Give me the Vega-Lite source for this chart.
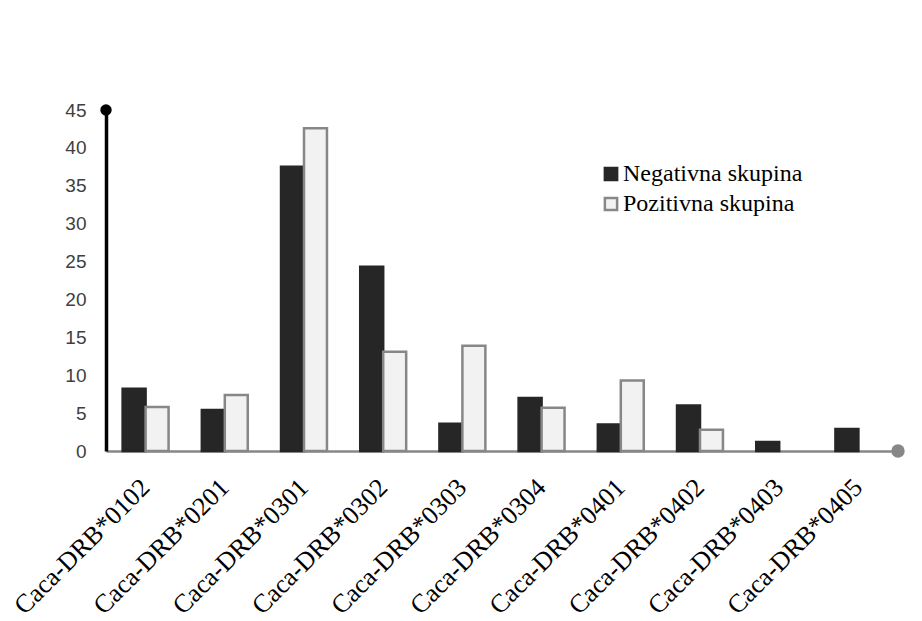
{
  "$schema": "https://vega.github.io/schema/vega-lite/v6.json",
  "width": 792,
  "height": 341,
  "autosize": {"type": "none"},
  "padding": {"left": 106, "top": 110, "right": 24, "bottom": 170},
  "background": "white",
  "config": {
    "view": {"stroke": null},
    "axisY": {
      "grid": false,
      "ticks": false,
      "domainColor": "#000000",
      "domainWidth": 3.5,
      "labelFont": "Liberation Sans",
      "labelFontSize": 19,
      "labelColor": "#404040",
      "labelPadding": 20,
      "labelOverlap": false,
      "labelFlush": false
    },
    "axisX": {
      "domainColor": "#878787",
      "domainWidth": 2.5,
      "ticks": false,
      "labelAngle": -45,
      "labelAlign": "right",
      "labelBaseline": "middle",
      "labelFont": "Liberation Serif",
      "labelFontSize": 26,
      "labelColor": "#000000",
      "labelPadding": 32,
      "labelOverlap": false,
      "labelLimit": 400
    }
  },
  "data": {
    "values": [
      {"allele": "Caca-DRB*0102", "group": "Negativna skupina", "value": 8.2},
      {"allele": "Caca-DRB*0102", "group": "Pozitivna skupina", "value": 5.8},
      {"allele": "Caca-DRB*0201", "group": "Negativna skupina", "value": 5.4},
      {"allele": "Caca-DRB*0201", "group": "Pozitivna skupina", "value": 7.4},
      {"allele": "Caca-DRB*0301", "group": "Negativna skupina", "value": 37.5},
      {"allele": "Caca-DRB*0301", "group": "Pozitivna skupina", "value": 42.6},
      {"allele": "Caca-DRB*0302", "group": "Negativna skupina", "value": 24.3},
      {"allele": "Caca-DRB*0302", "group": "Pozitivna skupina", "value": 13.1},
      {"allele": "Caca-DRB*0303", "group": "Negativna skupina", "value": 3.6},
      {"allele": "Caca-DRB*0303", "group": "Pozitivna skupina", "value": 13.9},
      {"allele": "Caca-DRB*0304", "group": "Negativna skupina", "value": 7.0},
      {"allele": "Caca-DRB*0304", "group": "Pozitivna skupina", "value": 5.7},
      {"allele": "Caca-DRB*0401", "group": "Negativna skupina", "value": 3.5},
      {"allele": "Caca-DRB*0401", "group": "Pozitivna skupina", "value": 9.3},
      {"allele": "Caca-DRB*0402", "group": "Negativna skupina", "value": 6.0},
      {"allele": "Caca-DRB*0402", "group": "Pozitivna skupina", "value": 2.8},
      {"allele": "Caca-DRB*0403", "group": "Negativna skupina", "value": 1.2},
      {"allele": "Caca-DRB*0403", "group": "Pozitivna skupina", "value": 0},
      {"allele": "Caca-DRB*0405", "group": "Negativna skupina", "value": 2.9},
      {"allele": "Caca-DRB*0405", "group": "Pozitivna skupina", "value": 0}
    ]
  },
  "layer": [
    {
      "mark": {"type": "bar", "strokeWidth": 2.5},
      "encoding": {
        "x": {
          "field": "allele",
          "type": "nominal",
          "sort": null,
          "scale": {"paddingInner": 0.42, "paddingOuter": 0.21},
          "axis": {"title": null}
        },
        "xOffset": {
          "field": "group",
          "type": "nominal",
          "scale": {"domain": ["Negativna skupina", "Pozitivna skupina"]}
        },
        "y": {
          "field": "value",
          "type": "quantitative",
          "scale": {"domain": [0, 45]},
          "axis": {"title": null, "values": [0, 5, 10, 15, 20, 25, 30, 35, 40, 45]}
        },
        "strokeOpacity": {
          "condition": {"test": "datum.value === 0", "value": 0},
          "value": 1
        },
        "fill": {
          "field": "group",
          "type": "nominal",
          "scale": {"domain": ["Negativna skupina", "Pozitivna skupina"], "range": ["#262626", "#f2f2f2"]},
          "legend": {
            "title": null,
            "orient": "none",
            "legendX": 493,
            "legendY": 52,
            "symbolType": "square",
            "symbolSize": 150,
            "symbolStrokeWidth": 2.5,
            "labelFont": "Liberation Serif",
            "labelFontSize": 24,
            "labelColor": "#000000",
            "labelOffset": 0,
            "labelLimit": 400,
            "rowPadding": 6
          }
        },
        "stroke": {
          "field": "group",
          "type": "nominal",
          "scale": {"domain": ["Negativna skupina", "Pozitivna skupina"], "range": ["#262626", "#878787"]},
          "legend": {
            "title": null,
            "orient": "none",
            "legendX": 493,
            "legendY": 52,
            "symbolType": "square",
            "symbolSize": 150,
            "symbolStrokeWidth": 2.5,
            "labelFont": "Liberation Serif",
            "labelFontSize": 24,
            "labelColor": "#000000",
            "labelOffset": 0,
            "labelLimit": 400,
            "rowPadding": 6
          }
        }
      }
    },
    {
      "data": {"values": [{"end": "top"}]},
      "mark": {"type": "point", "filled": true, "color": "#000000", "size": 130, "opacity": 1},
      "encoding": {
        "x": {"value": 0},
        "y": {"datum": 45, "type": "quantitative", "axis": {"title": null, "values": [0, 5, 10, 15, 20, 25, 30, 35, 40, 45]}}
      }
    },
    {
      "data": {"values": [{"end": "right"}]},
      "mark": {"type": "point", "filled": true, "color": "#878787", "size": 180, "opacity": 1},
      "encoding": {
        "x": {"value": {"expr": "width"}},
        "y": {"datum": 0, "type": "quantitative", "axis": {"title": null, "values": [0, 5, 10, 15, 20, 25, 30, 35, 40, 45]}}
      }
    }
  ]
}
